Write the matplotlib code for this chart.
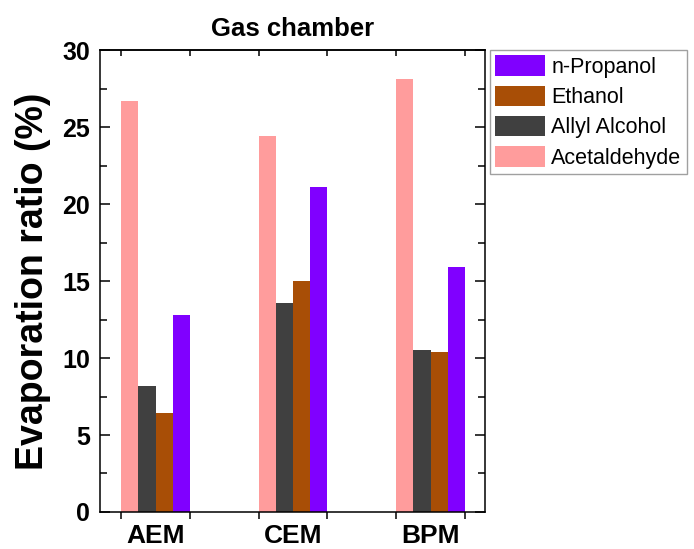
import matplotlib.pyplot as plt
import numpy as np

plt.rcParams['font.family'] = ['Liberation Sans', 'DejaVu Sans']

categories = ['AEM', 'CEM', 'BPM']
series = ['Acetaldehyde', 'Allyl Alcohol', 'Ethanol', 'n-Propanol']
acetaldehyde = [26.7, 24.4, 28.1]
allyl_alcohol = [8.2, 13.6, 10.5]
ethanol = [6.4, 15.0, 10.4]
n_propanol = [12.8, 21.1, 15.9]
colors = ['#FF9C9C', '#404040', '#A84E06', '#8000FF']

values = [acetaldehyde, allyl_alcohol, ethanol, n_propanol]

fig = plt.figure(figsize=(6.94, 5.49), dpi=100)
ax = fig.add_axes([0.1441, 0.0674, 0.5548, 0.8415])

x = np.arange(1, len(categories) + 1)
w = 0.125
handles = []
for i, (name, vals, c) in enumerate(zip(series, values, colors)):
    h = ax.bar(x - 0.25 + (i + 0.5) * w, vals, w, color=c, label=name,
               linewidth=0)
    handles.append(h)

ax.set_xlim(0.596, 3.396)
ax.set_ylim(0, 30)
ax.set_yticks(np.arange(0, 31, 5))
ax.set_yticks(np.arange(2.5, 30, 5), minor=True)
ax.set_xticks(x)
ax.set_xticklabels(categories)
edges = np.concatenate([x - 0.25, x + 0.25])
ax.set_xticks(np.sort(edges), minor=True)

for s in ax.spines.values():
    s.set_linewidth(1.1)

ax.tick_params(axis='x', which='major', length=0, pad=9)
ax.tick_params(axis='x', which='minor', direction='out', length=5, width=1.1)
ax.tick_params(axis='y', which='both', direction='in', left=True, right=True,
               width=1.1, pad=7)
ax.tick_params(axis='y', which='major', length=7)
ax.tick_params(axis='y', which='minor', length=5)

top = ax.secondary_xaxis('top')
top.set_xticks(np.sort(edges))
top.tick_params(direction='in', length=4, width=1.1, labeltop=False)
top.spines['top'].set_linewidth(1.1)

for lab in ax.get_xticklabels():
    lab.set_fontweight('bold')
    lab.set_fontsize(19)
for lab in ax.get_yticklabels():
    lab.set_fontweight('bold')
    lab.set_fontsize(18)

ax.set_ylabel('Evaporation ratio (%)', fontsize=27, fontweight='bold',
              labelpad=8)
ax.set_title('Gas chamber', fontsize=18.5, fontweight='bold', pad=10)

leg = ax.legend(handles[::-1], series[::-1], loc='upper left',
                bbox_to_anchor=(1.013, 1.0), borderaxespad=0, fontsize=15.5,
                handlelength=2.3, handleheight=1.1, handletextpad=0.3,
                labelspacing=0.35, borderpad=0.25, fancybox=False,
                edgecolor='#a0a0a0', framealpha=1)
leg.get_frame().set_linewidth(1.0)

fig.savefig('out.png', dpi=100)
